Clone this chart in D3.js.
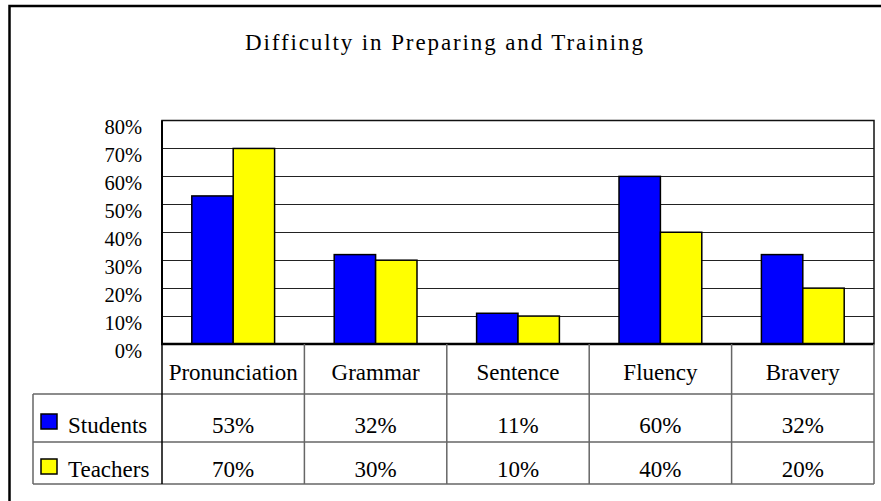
<!DOCTYPE html>
<html>
<head>
<meta charset="utf-8">
<script src="https://cdn.jsdelivr.net/npm/d3@7"></script>
<style>
    body { margin: 0; background: #fff; }
</style>
</head>
<body>
<div id="chart"></div>
<script>
// chart data
var categories = ["Pronunciation", "Grammar", "Sentence", "Fluency", "Bravery"];
var seriesNames = ["Students", "Teachers"];
var students = [53, 32, 11, 60, 32];
var teachers = [70, 30, 10, 40, 20];
var seriesColors = ["#0000ff", "#ffff00"];
var yTicks = [0, 10, 20, 30, 40, 50, 60, 70, 80];

var width = 881, height = 501;
var plot = {left: 162, right: 874, top: 120.5, bottom: 344};
var table = {left: 33, rows: [344, 394, 442, 484]};
var serif = "font-family: 'Liberation Serif', 'DejaVu Serif', serif";

var svg = d3.select("#chart").append("svg")
        .attr("width", width)
        .attr("height", height);

// outer frame (runs past right / bottom edge like the original)
svg.append("rect")
        .attr("x", 9.5).attr("y", 6)
        .attr("width", 900).attr("height", 600)
        .attr("fill", "none")
        .attr("stroke", "#000")
        .attr("stroke-width", 2.5);

svg.append("text")
        .attr("style", serif)
        .attr("x", 444).attr("y", 50)
        .attr("text-anchor", "middle")
        .attr("font-size", 23)
        .attr("textLength", 398)
        .attr("lengthAdjust", "spacing")
        .text("Difficulty in Preparing and Training");

var x0 = d3.scaleBand()
        .domain(categories)
        .range([plot.left, plot.right])
        .padding(0);

var x1 = d3.scaleBand()
        .domain(seriesNames)
        .range([0, x0.bandwidth()])
        .paddingInner(0)
        .paddingOuter(0.72);

var y = d3.scaleLinear()
        .domain([0, 80])
        .range([plot.bottom, plot.top]);

// gridlines
svg.append("g").selectAll("line")
        .data(yTicks.slice(1, -1))
        .enter().append("line")
        .attr("x1", plot.left).attr("x2", plot.right)
        .attr("y1", function (d) { return Math.round(y(d)) + 0.5; })
        .attr("y2", function (d) { return Math.round(y(d)) + 0.5; })
        .attr("stroke", "#222")
        .attr("stroke-width", 1);

// y axis labels
var yAxis = d3.axisLeft(y)
        .tickValues(yTicks)
        .tickSize(0)
        .tickPadding(0)
        .tickFormat(function (d) { return d + "%"; });

var ya = svg.append("g")
        .attr("transform", "translate(142,0)")
        .call(yAxis);
ya.select(".domain").remove();
ya.attr("font-family", null);
ya.selectAll("text")
        .attr("style", serif)
        .attr("font-size", 20.5)
        .attr("fill", "#000")
        .attr("dy", 13);

// bars
var data = categories.map(function (c, i) {
    return {cat: c, values: [students[i], teachers[i]]};
});

var groups = svg.append("g").selectAll("g")
        .data(data)
        .enter().append("g")
        .attr("transform", function (d) { return "translate(" + x0(d.cat) + ",0)"; });

groups.selectAll("rect")
        .data(function (d) {
            return d.values.map(function (v, i) { return {name: seriesNames[i], value: v, idx: i}; });
        })
        .enter().append("rect")
        .attr("x", function (d) { return x1(d.name); })
        .attr("y", function (d) { return y(d.value); })
        .attr("width", x1.bandwidth())
        .attr("height", function (d) { return plot.bottom - y(d.value); })
        .attr("fill", function (d) { return seriesColors[d.idx]; })
        .attr("stroke", "#000")
        .attr("stroke-width", 1.5);

// plot frame
svg.append("rect")
        .attr("x", plot.left).attr("y", plot.top)
        .attr("width", plot.right - plot.left)
        .attr("height", plot.bottom - plot.top)
        .attr("fill", "none")
        .attr("stroke", "#111")
        .attr("stroke-width", 1.5);
svg.append("line")
        .attr("x1", plot.left).attr("x2", plot.left)
        .attr("y1", plot.top).attr("y2", plot.bottom)
        .attr("stroke", "#000").attr("stroke-width", 2);
svg.append("line")
        .attr("x1", plot.left - 1).attr("x2", plot.right)
        .attr("y1", plot.bottom).attr("y2", plot.bottom)
        .attr("stroke", "#000").attr("stroke-width", 2.5);

// data table
var tg = svg.append("g");
var lineColor = "#666";

// horizontal rules
tg.selectAll("line.h")
        .data(table.rows.slice(1))
        .enter().append("line")
        .attr("class", "h")
        .attr("x1", table.left).attr("x2", plot.right)
        .attr("y1", function (d) { return d; })
        .attr("y2", function (d) { return d; })
        .attr("stroke", lineColor).attr("stroke-width", 1.5);

// vertical rules at category boundaries
var bounds = categories.map(function (c) { return x0(c); }).concat([plot.right]);
tg.selectAll("line.v")
        .data(bounds)
        .enter().append("line")
        .attr("class", "v")
        .attr("x1", function (d) { return d; })
        .attr("x2", function (d) { return d; })
        .attr("y1", plot.bottom).attr("y2", table.rows[3])
        .attr("stroke", function (d, i) { return i == 0 ? "#000" : lineColor; })
        .attr("stroke-width", 1.5);
tg.append("line")
        .attr("x1", table.left).attr("x2", table.left)
        .attr("y1", table.rows[1]).attr("y2", table.rows[3])
        .attr("stroke", lineColor).attr("stroke-width", 1.5);

// category labels
tg.selectAll("text.cat")
        .data(categories)
        .enter().append("text")
        .attr("class", "cat")
        .attr("style", serif)
        .attr("x", function (d) { return x0(d) + x0.bandwidth() / 2; })
        .attr("y", 380)
        .attr("text-anchor", "middle")
        .attr("font-size", 23)
        .text(function (d) { return d; });

// series rows
var rowBase = [432.5, 476.5];
var swatchTop = [414, 459];
[students, teachers].forEach(function (vals, r) {
    tg.append("rect")
            .attr("x", 41).attr("y", swatchTop[r])
            .attr("width", 16).attr("height", 15)
            .attr("fill", seriesColors[r])
            .attr("stroke", "#000")
            .attr("stroke-width", 1.5);
    tg.append("text")
            .attr("style", serif)
            .attr("x", 68).attr("y", rowBase[r])
            .attr("font-size", 23)
            .text(seriesNames[r]);
    tg.selectAll("text.v" + r)
            .data(vals)
            .enter().append("text")
            .attr("class", "v" + r)
            .attr("style", serif)
            .attr("x", function (d, i) { return x0(categories[i]) + x0.bandwidth() / 2; })
            .attr("y", rowBase[r])
            .attr("text-anchor", "middle")
            .attr("font-size", 23)
            .text(function (d) { return d + "%"; });
});
</script>
</body>
</html>
